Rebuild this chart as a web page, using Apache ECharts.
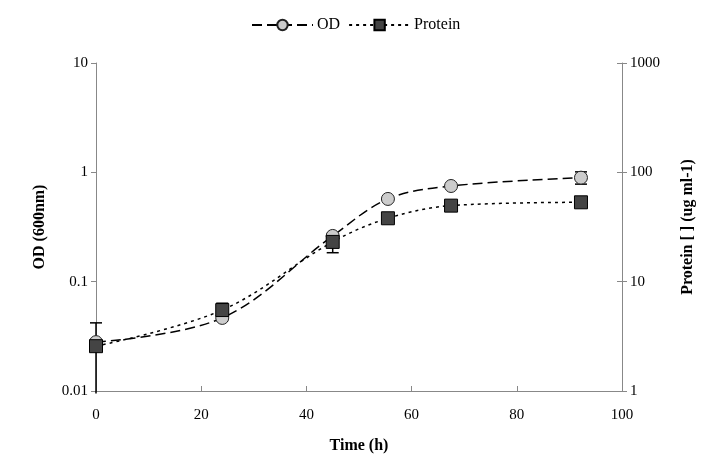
<!DOCTYPE html>
<html>
<head>
<meta charset="utf-8">
<script src="https://cdn.jsdelivr.net/npm/echarts@6/dist/echarts.min.js"></script>
<style>html,body{margin:0;padding:0;background:#fff}#c{width:704px;height:472px}</style>
</head>
<body>
<div id="c"></div>
<script>
var timeH = [0, 24, 45, 55.5, 67.5, 92.2];
var odValues = [0.028, 0.0466, 0.262, 0.571, 0.75, 0.894];
var proteinValues = [2.57, 5.5, 23.1, 38.0, 49.6, 53.2];
// error bars: [time, low, high]
var odErrors = [[0, 0.0095, 0.042], [24, 0.044, 0.049], [45, 0.25, 0.275], [92.2, 0.78, 1.01]];
var proteinErrors = [[24, 5.0, 6.35], [45, 18.4, 27.5], [92.2, 50.5, 56]];
var xTicks = [0, 20, 40, 60, 80, 100];
var odTicks = [0.01, 0.1, 1, 10];
var proteinTicks = [1, 10, 100, 1000];

var FONT = 'Liberation Serif';
function pairs(xs, ys) { return xs.map(function (x, i) { return [x, ys[i]]; }); }

function makeErrRender(axisMin) {
  return function (params, api) {
    var x = api.value(0);
    var lo = api.coord([x, api.value(1)]);
    var hi = api.coord([x, api.value(2)]);
    var w = 6;
    var st = { stroke: '#000', lineWidth: 1.5 };
    var kids = [
      { type: 'line', shape: { x1: lo[0], y1: lo[1], x2: hi[0], y2: hi[1] }, style: st },
      { type: 'line', shape: { x1: hi[0] - w, y1: hi[1], x2: hi[0] + w, y2: hi[1] }, style: st }
    ];
    if (api.value(1) >= axisMin) {
      kids.push({ type: 'line', shape: { x1: lo[0] - w, y1: lo[1], x2: lo[0] + w, y2: lo[1] }, style: st });
    }
    return { type: 'group', children: kids };
  };
}

var chart = echarts.init(document.getElementById('c'));
chart.setOption({
  animation: false,
  textStyle: { fontFamily: FONT, color: '#000' },
  grid: { left: 96, right: 81, top: 63, bottom: 81 },
  legend: {
    top: 12,
    left: 246,
    itemWidth: 61,
    itemHeight: 13,
    itemGap: 8,
    textStyle: { fontFamily: FONT, fontSize: 16, color: '#000', padding: [0, 0, 0, -1] },
    data: ['OD', 'Protein']
  },
  xAxis: {
    type: 'value',
    min: 0, max: 100, interval: 20,
    axisLine: { lineStyle: { color: '#888', width: 1 } },
    axisTick: { show: true, inside: true, length: 5, lineStyle: { color: '#888' } },
    splitLine: { show: false },
    axisLabel: { fontFamily: FONT, fontSize: 15, color: '#000', margin: 17,
      formatter: function (v) { return xTicks.indexOf(v) >= 0 ? String(v) : ''; } },
    name: 'Time (h)',
    nameLocation: 'middle',
    nameGap: 47,
    nameTextStyle: { fontFamily: FONT, fontSize: 16, fontWeight: 'bold', color: '#000' }
  },
  yAxis: [
    {
      type: 'log', logBase: 10, min: odTicks[0], max: odTicks[odTicks.length - 1],
      axisLine: { show: true, lineStyle: { color: '#888', width: 1 } },
      axisTick: { show: true, length: 5, lineStyle: { color: '#888' } },
      splitLine: { show: false },
      axisLabel: { fontFamily: FONT, fontSize: 15, color: '#000', margin: 8,
        formatter: function (v) { return String(+v.toPrecision(3)); } },
      name: 'OD (600nm)',
      nameLocation: 'middle',
      nameGap: 48,
      nameRotate: 90,
      nameTextStyle: { fontFamily: FONT, fontSize: 16, fontWeight: 'bold', color: '#000' }
    },
    {
      type: 'log', logBase: 10, min: proteinTicks[0], max: proteinTicks[proteinTicks.length - 1],
      position: 'right',
      axisLine: { show: true, lineStyle: { color: '#888', width: 1 } },
      axisTick: { show: true, length: 5, lineStyle: { color: '#888' } },
      splitLine: { show: false },
      axisLabel: { fontFamily: FONT, fontSize: 15, color: '#000', margin: 8,
        formatter: function (v) { return String(+v.toPrecision(4)); } },
      name: 'Protein [ ] (ug ml-1)',
      nameLocation: 'middle',
      nameGap: 58,
      nameRotate: 90,
      nameTextStyle: { fontFamily: FONT, fontSize: 16, fontWeight: 'bold', color: '#000' }
    },
    {
      type: 'log', logBase: 10, min: proteinTicks[0], max: proteinTicks[proteinTicks.length - 1],
      position: 'right',
      axisLine: { show: false },
      axisTick: { show: true, inside: true, length: 5, lineStyle: { color: '#888' } },
      splitLine: { show: false },
      axisLabel: { show: false }
    }
  ],
  series: [
    {
      name: 'ODerr', type: 'custom', yAxisIndex: 0, renderItem: makeErrRender(odTicks[0]),
      data: odErrors, z: 1, silent: true
    },
    {
      name: 'Perr', type: 'custom', yAxisIndex: 1, renderItem: makeErrRender(proteinTicks[0]),
      data: proteinErrors, z: 1, silent: true
    },
    {
      name: 'OD', type: 'line', yAxisIndex: 0, smooth: 0.35,
      data: pairs(timeH, odValues),
      symbol: 'circle', symbolSize: 13,
      itemStyle: { color: '#cccccc', borderColor: '#222', borderWidth: 1 },
      lineStyle: { color: '#000', width: 1.5, type: [10, 5] },
      z: 2
    },
    {
      name: 'Protein', type: 'line', yAxisIndex: 1, smooth: 0.35,
      data: pairs(timeH, proteinValues),
      symbol: 'rect', symbolSize: 13,
      itemStyle: { color: '#444444', borderColor: '#000', borderWidth: 1 },
      lineStyle: { color: '#000', width: 1.5, type: [3, 4] },
      z: 4
    }
  ]
});
</script>
</body>
</html>
